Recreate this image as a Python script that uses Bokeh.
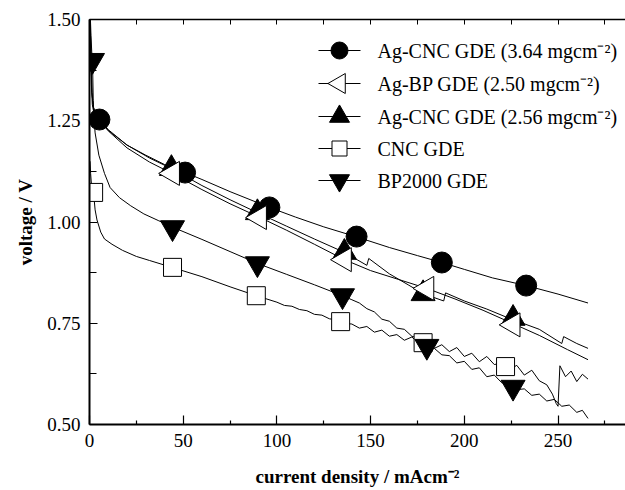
import numpy as np
from bokeh.plotting import figure
from bokeh.models import (LinearAxis, FixedTicker, NumeralTickFormatter, Range1d,
                          CustomJSTickFormatter)
from bokeh.core.properties import value
from bokeh.embed import file_html
from bokeh.resources import INLINE

# ---------------- data ----------------
# Ag-CNC GDE (3.64 mg cm-2)  -- filled circles
cnc364_x = [0.3, 0.6, 1.0, 1.5, 2.5, 4, 5.3, 10, 20, 30, 40, 51, 60, 75, 96, 110,
            125, 142, 160, 175, 188, 200, 215, 233, 250, 266]
cnc364_v = [1.50, 1.42, 1.34, 1.29, 1.265, 1.255, 1.25, 1.226, 1.19, 1.165, 1.142,
            1.122, 1.105, 1.075, 1.036, 1.012, 0.988, 0.964, 0.937, 0.917, 0.900,
            0.883, 0.862, 0.843, 0.822, 0.800]
cnc364_mx = [5.3, 51, 96, 142.5, 188, 233]
cnc364_mv = [1.253, 1.122, 1.036, 0.964, 0.900, 0.843]

# Ag-BP GDE (2.50 mg cm-2)  -- open left triangles
bp250_x = [0.4, 0.8, 1.3, 2, 3, 5, 10, 20, 32, 44, 60, 75, 91, 105, 120, 136, 150,
           165, 180, 195, 210, 226, 240, 255, 266]
bp250_v = [1.50, 1.40, 1.32, 1.285, 1.27, 1.255, 1.225, 1.183, 1.148, 1.12, 1.08,
           1.045, 1.011, 0.98, 0.945, 0.907, 0.88, 0.858, 0.836, 0.81, 0.782, 0.749,
           0.72, 0.685, 0.66]
bp250_mx = [44.3, 90.7, 136, 180, 226]
bp250_mv = [1.120, 1.011, 0.907, 0.836, 0.746]

# Ag-CNC GDE (2.56 mg cm-2)  -- filled up triangles
cnc256_x = [0.4, 0.8, 1.3, 2, 3, 5, 10, 20, 32, 43.7, 60, 75, 89.6, 105, 120, 136,
            148, 149, 160, 170, 178, 189, 190, 200, 212, 223, 240, 252, 253, 260, 266]
cnc256_v = [1.50, 1.41, 1.32, 1.285, 1.27, 1.257, 1.228, 1.19, 1.158, 1.132, 1.09,
            1.055, 1.023, 0.99, 0.958, 0.925, 0.893, 0.910, 0.872, 0.845, 0.823,
            0.805, 0.825, 0.805, 0.785, 0.764, 0.735, 0.700, 0.717, 0.700, 0.688]
cnc256_mx = [43.7, 89.6, 136, 178, 226]
cnc256_mv = [1.132, 1.023, 0.925, 0.823, 0.762]

# CNC GDE  -- open squares
cnc_x = [0.3, 0.6, 1.0, 1.5, 2.2, 3, 4, 6, 8, 12, 17.6, 25, 32, 44, 60, 75, 89,
         100, 104, 108, 112, 116, 120, 124, 128, 132, 136, 140, 144, 148, 152, 156,
         160, 164, 168, 172, 176, 180, 184, 188, 192, 196, 200, 204, 208, 212, 216,
         220, 224, 228, 232, 236, 240, 244, 247, 249, 250, 251, 254, 257, 260, 263, 266]
cnc_v = [1.15, 1.12, 1.095, 1.08, 1.07, 1.03, 1.005, 0.975, 0.958, 0.945, 0.93,
         0.915, 0.905, 0.888, 0.865, 0.84, 0.818,
         0.802, 0.794, 0.792, 0.784, 0.781, 0.772, 0.770, 0.761, 0.758, 0.750,
         0.748, 0.738, 0.742, 0.728, 0.733, 0.718, 0.722, 0.708, 0.716, 0.700,
         0.705, 0.688, 0.697, 0.680, 0.690, 0.668, 0.676, 0.655, 0.668, 0.648,
         0.652, 0.636, 0.646, 0.622, 0.634, 0.608, 0.598, 0.575, 0.552, 0.545,
         0.645, 0.618, 0.632, 0.606, 0.624, 0.612]
cnc_mx = [2.2, 44.3, 89, 134, 178, 222]
cnc_mv = [1.073, 0.888, 0.818, 0.754, 0.702, 0.643]

# BP2000 GDE  -- filled down triangles
bp2000_x = [0.5, 0.8, 1.2, 1.6, 2.0, 2.5, 3, 5, 8, 11, 16, 22, 29, 37, 45, 60, 75,
            90, 105, 120, 135, 140, 144, 148, 152, 156, 160, 164, 168, 172, 176,
            180, 184, 188, 192, 196, 200, 204, 208, 212, 216, 220, 224, 228, 232,
            236, 240, 244, 248, 252, 256, 260, 263, 266]
bp2000_v = [1.50, 1.46, 1.42, 1.40, 1.30, 1.25, 1.22, 1.165, 1.12, 1.085, 1.06,
            1.04, 1.02, 1.003, 0.986, 0.957, 0.927, 0.897, 0.871, 0.845, 0.818,
            0.808, 0.800, 0.786, 0.778, 0.760, 0.755, 0.738, 0.735, 0.718, 0.712,
            0.697, 0.688, 0.672, 0.670, 0.652, 0.656, 0.636, 0.640, 0.618, 0.622,
            0.603, 0.600, 0.586, 0.588, 0.572, 0.575, 0.558, 0.562, 0.545, 0.548,
            0.530, 0.535, 0.515]
bp2000_mx = [1.6, 44.3, 89.6, 135, 180, 226]
bp2000_mv = [1.399, 0.986, 0.897, 0.818, 0.693, 0.592]

labels = ["Ag-CNC GDE (3.64 mgcm\u207b\u00b2)",
          "Ag-BP GDE (2.50 mgcm\u207b\u00b2)",
          "Ag-CNC GDE (2.56 mgcm\u207b\u00b2)",
          "CNC GDE",
          "BP2000 GDE"]

x_ticks = [0, 50, 100, 150, 200, 250]
x_minor = [25, 75, 125, 175, 225, 275]
y_ticks = [0.5, 0.75, 1.0, 1.25, 1.5]
y_minor = [0.625, 0.875, 1.125, 1.375]

FONT = "Liberation Serif"

# ---------------- layout ----------------
W, H = 625, 490
BL, BR, BT, BB = 89, 0, 19, 66
X0, X1 = 0, 286
Y0, Y1 = 0.5, 1.5

p = figure(width=W, height=H, x_range=Range1d(X0, X1), y_range=Range1d(Y0, Y1),
           output_backend="svg", toolbar_location=None,
           min_border_left=BL, min_border_right=BR, min_border_top=BT,
           min_border_bottom=BB)
p.grid.visible = False
p.outline_line_color = None
p.background_fill_color = "white"
p.border_fill_color = "white"

xt = FixedTicker(ticks=x_ticks, minor_ticks=x_minor)
yt = FixedTicker(ticks=y_ticks, minor_ticks=y_minor)

xa = p.xaxis[0]
xa.ticker = xt
xa.axis_label = "current density / mAcm\u207b\u00b2"
ya = p.yaxis[0]
ya.ticker = yt
ya.formatter = NumeralTickFormatter(format="0.00")
ya.axis_label = "voltage / V"

for ax, mj, mn, so in ((xa, 9, 4, 16), (ya, 8, 7, 8)):
    ax.axis_line_width = 2
    ax.axis_line_color = "black"
    ax.major_tick_in = mj
    ax.major_tick_out = 0
    ax.minor_tick_in = mn
    ax.minor_tick_out = 0
    ax.major_tick_line_width = 1.2
    ax.minor_tick_line_width = 1.2
    ax.major_label_text_font = FONT
    ax.major_label_text_font_size = "19px"
    ax.major_label_text_color = "black"
    ax.major_label_standoff = 9
    ax.axis_label_text_font = FONT
    ax.axis_label_text_font_style = "bold"
    ax.axis_label_text_font_size = "19px"
    ax.axis_label_text_color = "black"
    ax.axis_label_standoff = so

top = LinearAxis(ticker=xt, formatter=CustomJSTickFormatter(code="return ''"),
                 major_label_standoff=0, axis_line_width=1.5,
                 major_tick_in=5, major_tick_out=0, minor_tick_in=5, minor_tick_out=0)
p.add_layout(top, "above")

# ---------------- curves ----------------
p.line(cnc364_x, cnc364_v, line_color="black", line_width=1)
p.line(bp250_x, bp250_v, line_color="black", line_width=1)
p.line(cnc256_x, cnc256_v, line_color="black", line_width=1)
p.line(cnc_x, cnc_v, line_color="black", line_width=1)
p.line(bp2000_x, bp2000_v, line_color="black", line_width=1)

p.scatter(cnc364_mx, cnc364_mv, marker="circle", size=21,
          fill_color="black", line_color="black")
p.scatter(cnc256_mx, cnc256_mv, marker="triangle", size=24,
          fill_color="black", line_color="black")
p.scatter(bp250_mx, bp250_mv, marker="triangle", angle=np.pi / 2, size=24,
          fill_color="white", line_color="black", line_width=1)
p.scatter(cnc_mx, cnc_mv, marker="square", size=18,
          fill_color="white", line_color="black", line_width=1)
p.scatter(bp2000_mx, bp2000_mv, marker="inverted_triangle", size=24,
          fill_color="black", line_color="black")

# ---------------- hand-built legend (screen layout -> data space) ----------------
frame_w = W - BL - BR
frame_h = H - BT - BB


def sx(px):
    return X0 + (px - BL) * (X1 - X0) / frame_w


def sy(py):
    return Y1 - (py - BT) * (Y1 - Y0) / frame_h


row_y = [50, 83, 116, 148, 180]
glyph_l, glyph_r, glyph_c, text_l = 318, 360, 339, 377
styles = [dict(marker="circle", size=17, fill_color="black", angle=0.0),
          dict(marker="triangle", size=20, fill_color="white", angle=np.pi / 2),
          dict(marker="triangle", size=20, fill_color="black", angle=0.0),
          dict(marker="square", size=15, fill_color="white", angle=0.0),
          dict(marker="inverted_triangle", size=20, fill_color="black", angle=0.0)]
for ry, st, lab in zip(row_y, styles, labels):
    yy = sy(ry)
    p.line([sx(glyph_l), sx(glyph_r)], [yy, yy], line_color="black", line_width=1)
    p.scatter([sx(glyph_c)], [yy], marker=st["marker"], size=st["size"],
              fill_color=st["fill_color"], line_color="black", angle=st["angle"])
    p.text([sx(text_l)], [yy], text=[lab], text_font=value(FONT),
           text_font_size="20px", text_baseline="middle", text_align="left",
           text_color="black")

open("out.html", "w").write(file_html(p, INLINE))
